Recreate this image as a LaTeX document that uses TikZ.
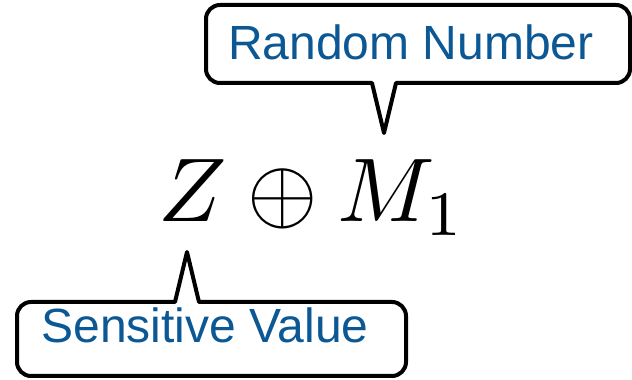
\documentclass[tikz,border=0pt]{standalone}
\usepackage{fontspec}
\newfontfamily\calloutfont{Liberation Sans}
\usepackage{xcolor}
\usepackage{tikz}
\usetikzlibrary{positioning}
\definecolor{labelblue}{HTML}{0C5894}

\begin{document}
\begin{tikzpicture}[x=1pt, y=1pt,
    every node/.style={inner sep=0pt},
    bubble/.style={draw=black, fill=white, line width=4pt, line join=round},
    bubbletext/.style={font=\calloutfont\fontsize{48}{56}\selectfont, text=labelblue, anchor=base}
]
\useasboundingbox (0,0) rectangle (632,380);

% expression
\node[anchor=base west, scale=9.05] (expr) at (157,158) {$Z \oplus M_1$};

% callout for the random number
\draw[bubble] (384,247) -- (372,297) [rounded corners=14pt] -- (206,297) -- (206,375)
    -- (630,375) -- (630,297) [sharp corners] -- (396,297) -- cycle;
\node[bubbletext] (randlabel) at (411,320) {Random Number};

% callout for the sensitive value
\draw[bubble] (187,128) -- (199,78) [rounded corners=14pt] -- (406,78) -- (406,4)
    -- (17,4) -- (17,78) [sharp corners] -- (175,78) -- cycle;
\node[bubbletext] (senslabel) at (205,37) {Sensitive Value};
\end{tikzpicture}
\end{document}
